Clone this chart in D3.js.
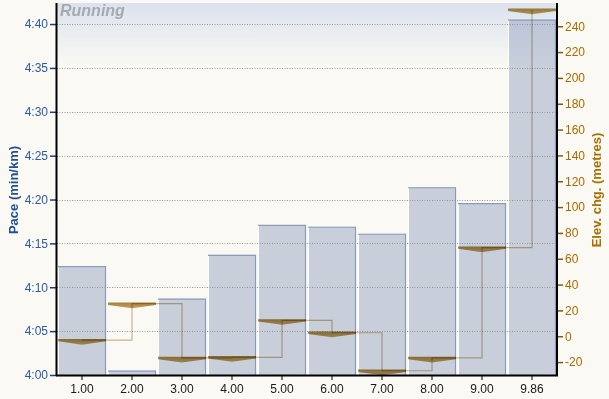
<!DOCTYPE html>
<html>
<head>
<meta charset="utf-8">
<script src="https://cdn.jsdelivr.net/npm/d3@7"></script>
<style>
  html, body { margin: 0; padding: 0; background: #faf9f3; }
  svg { display: block; font-family: "Liberation Sans", Arial, sans-serif; }
</style>
</head>
<body>
<div id="chart"></div>
<script>
// split labels (km)
const km = ['1.00','2.00','3.00','4.00','5.00','6.00','7.00','8.00','9.00','9.86'];
// pace per split, seconds per km
const paceSec = [252.4, 240.5, 248.7, 253.7, 257.1, 256.9, 256.1, 261.4, 259.6, 280.5];
// elevation change per split, metres
const elevChg = [-3, 25.2, -16.8, -16.3, 12.3, 2.7, -26.7, -16.8, 68.6, 252.8];
// axis ticks
const paceTicks = [240, 245, 250, 255, 260, 265, 270, 275, 280];
const elevTicks = [-20, 0, 20, 40, 60, 80, 100, 120, 140, 160, 180, 200, 220, 240];

let width = 609;
let height = 399;
let plot_left = 57, plot_right = 557, plot_top = 3, plot_bottom = 375;

let svg = d3.select('#chart')
    .append('svg')
    .attr('width', width)
    .attr('height', height);

const xScale = d3.scaleBand().domain(km).range([plot_left, plot_right]);
const yPace = d3.scaleLinear().domain([240, 282.4]).range([plot_bottom, plot_top]);
const yElev = d3.scaleLinear().domain([-30, 258]).range([plot_bottom, plot_top]);

let defs = svg.append('defs');
let bg = defs.append('linearGradient').attr('id', 'topGrad')
    .attr('x1', 0).attr('y1', 0).attr('x2', 0).attr('y2', 1);
bg.append('stop').attr('offset', '0%').attr('stop-color', '#dbe2ee');
bg.append('stop').attr('offset', '100%').attr('stop-color', '#faf9f3');

let mk = defs.append('linearGradient').attr('id', 'markGrad')
    .attr('x1', 0).attr('y1', 0).attr('x2', 0).attr('y2', 1);
mk.append('stop').attr('offset', '0%').attr('stop-color', '#a9843c');
mk.append('stop').attr('offset', '100%').attr('stop-color', '#c6a462');

// top shading of the plot area
svg.append('rect')
    .attr('x', plot_left)
    .attr('y', plot_top)
    .attr('width', plot_right - plot_left)
    .attr('height', 62)
    .attr('fill', 'url(#topGrad)');

// pace bars
const bw = xScale.bandwidth();
let bars = svg.append('g').attr('id', 'bars');
km.forEach(function(k, i){
    let x0 = xScale(k) + 1;
    let x1 = xScale(k) + bw - 1;
    let yt = yPace(paceSec[i]);
    bars.append('rect')
        .attr('x', x0)
        .attr('y', yt)
        .attr('width', x1 - x0)
        .attr('height', plot_bottom - yt)
        .attr('fill', 'rgba(150,164,194,0.5)');
    bars.append('line')
        .attr('x1', x0 + 0.5).attr('x2', x0 + 0.5)
        .attr('y1', yt).attr('y2', plot_bottom)
        .attr('stroke', '#ffffff')
        .attr('stroke-width', 1);
    bars.append('path')
        .attr('d', 'M' + x0 + ',' + (yt + 0.5) + 'H' + (x1 - 0.5) + 'V' + plot_bottom)
        .attr('fill', 'none')
        .attr('stroke', '#8a9cbc')
        .attr('stroke-width', 1.2);
});

// dotted grid
paceTicks.filter(t => t > 240).forEach(function(t){
    svg.append('line')
        .attr('x1', plot_left)
        .attr('x2', plot_right)
        .attr('y1', Math.round(yPace(t)) + 0.5)
        .attr('y2', Math.round(yPace(t)) + 0.5)
        .attr('stroke', '#979797')
        .attr('stroke-width', 1)
        .attr('stroke-dasharray', '1,1.5');
});

// elevation step line
let pts = km.map((k, i) => ({x: xScale(k) + bw / 2, y: yElev(elevChg[i])}));
let stepLine = d3.line().x(d => d.x).y(d => d.y).curve(d3.curveStepAfter);
svg.append('path')
    .datum(pts)
    .attr('d', stepLine)
    .attr('fill', 'none')
    .attr('stroke', '#cdb995')
    .attr('stroke-width', 1.2)
    .style('mix-blend-mode', 'multiply');

// elevation markers
km.forEach(function(k, i){
    let x0 = xScale(k) + 1;
    let x1 = xScale(k) + bw - 1;
    let xc = xScale(k) + bw / 2;
    let y = yElev(elevChg[i]);
    svg.append('path')
        .attr('d', 'M' + x0 + ',' + (y - 1.2) + 'L' + x1 + ',' + (y - 1.2) +
            'L' + x1 + ',' + (y + 1.2) + 'L' + xc + ',' + (y + 4.5) +
            'L' + x0 + ',' + (y + 1.2) + 'Z')
        .attr('fill', 'url(#markGrad)')
        .style('mix-blend-mode', 'multiply');
});

// "Running" label
svg.append('text')
    .text('Running')
    .attr('x', 60)
    .attr('y', 16)
    .attr('fill', '#a7a9b0')
    .style('font-size', '16px')
    .style('font-weight', 'bold')
    .style('font-style', 'italic');

// left axis
let leftAxis = d3.axisLeft(yPace)
    .tickValues(paceTicks)
    .tickSize(7)
    .tickPadding(2)
    .tickFormat(d => Math.floor(d / 60) + ':' + String(d % 60).padStart(2, '0'));
let gl = svg.append('g').attr('transform', 'translate(' + plot_left + ',0)').call(leftAxis);
gl.select('.domain').remove();
gl.selectAll('.tick line').attr('stroke', '#1c3f82').attr('stroke-width', 1.5);
gl.selectAll('.tick text').attr('fill', '#2d5aa6').style('font-size', '12px')
    .style('font-family', '"Liberation Sans", Arial, sans-serif');

// right axis
let rightAxis = d3.axisRight(yElev)
    .tickValues(elevTicks)
    .tickSize(6)
    .tickPadding(2)
    .tickFormat(d => d);
let gr = svg.append('g').attr('transform', 'translate(' + plot_right + ',0)').call(rightAxis);
gr.select('.domain').remove();
gr.selectAll('.tick line').attr('stroke', '#8a5a00').attr('stroke-width', 1.5);
gr.selectAll('.tick text').attr('fill', '#a96a00').style('font-size', '12px')
    .style('font-family', '"Liberation Sans", Arial, sans-serif');

// bottom axis
let bottomAxis = d3.axisBottom(xScale).tickSize(5).tickPadding(4);
let gb = svg.append('g').attr('transform', 'translate(0,' + plot_bottom + ')').call(bottomAxis);
gb.select('.domain').remove();
gb.selectAll('.tick line').attr('stroke', '#000').attr('stroke-width', 1);
gb.selectAll('.tick text').attr('fill', '#1a1a1a').style('font-size', '12px')
    .style('font-family', '"Liberation Sans", Arial, sans-serif');

// frame lines
svg.append('line').attr('x1', plot_left - 0.5).attr('x2', plot_left - 0.5)
    .attr('y1', plot_top).attr('y2', plot_bottom + 1)
    .attr('stroke', '#000').attr('stroke-width', 2);
svg.append('line').attr('x1', plot_right).attr('x2', plot_right)
    .attr('y1', plot_top).attr('y2', plot_bottom + 1)
    .attr('stroke', '#000').attr('stroke-width', 2);
svg.append('line').attr('x1', plot_left - 1).attr('x2', plot_right + 1)
    .attr('y1', plot_bottom + 0.5).attr('y2', plot_bottom + 0.5)
    .attr('stroke', '#000').attr('stroke-width', 2);

// axis titles
svg.append('text')
    .text('Pace (min/km)')
    .attr('transform', 'translate(18,190) rotate(-90)')
    .attr('text-anchor', 'middle')
    .attr('fill', '#1f4f9c')
    .style('font-size', '13px')
    .style('font-weight', 'bold');

svg.append('text')
    .text('Elev. chg. (metres)')
    .attr('transform', 'translate(601,190) rotate(-90)')
    .attr('text-anchor', 'middle')
    .attr('fill', '#a87000')
    .style('font-size', '13px')
    .style('font-weight', 'bold');
</script>
</body>
</html>
